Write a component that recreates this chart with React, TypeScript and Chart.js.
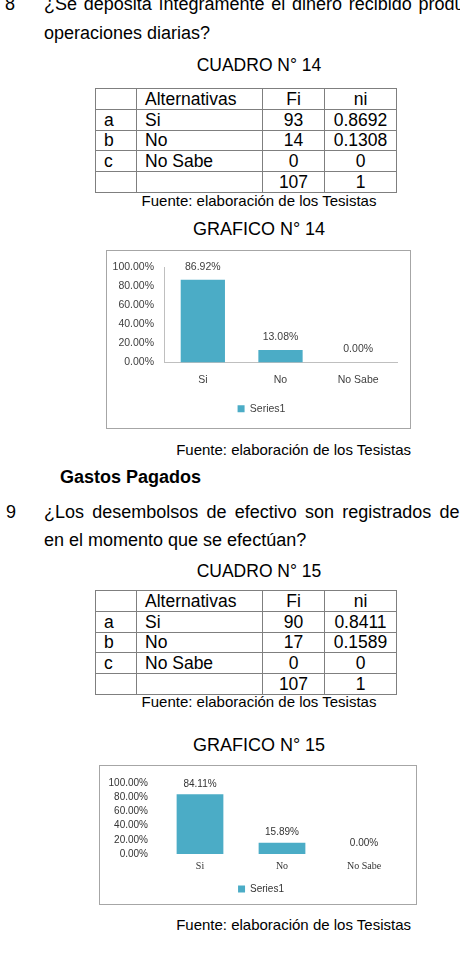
import React, { useEffect, useRef } from "react";
import { Chart, registerables } from "chart.js";

Chart.register(...registerables);

// ---------- data ----------
const categories = ["Si", "No", "No Sabe"];
const seriesName = "Series1";
const values14 = [0.8692, 0.1308, 0];
const values15 = [0.8411, 0.1589, 0];
const rowLetters = ["a", "b", "c"];
const fi14 = ["93", "14", "0"];
const ni14 = ["0.8692", "0.1308", "0"];
const fi15 = ["90", "17", "0"];
const ni15 = ["0.8411", "0.1589", "0"];
const totalFi = "107";
const totalNi = "1";
const yMin = 0;
const yMax = 1;
const yStep = 0.2;

const pct = (v: number) => (v * 100).toFixed(2) + "%";

// ---------- chart ----------
type Geom = {
  w: number;
  h: number;
  pad: { top: number; right: number; bottom: number; left: number };
  yWidth: number;
  rightWidth: number;
  xHeight: number;
  yPad: number;
  xPad: number;
  labelOffset: number;
  axisLines: boolean;
  color: string;
  family: string;
  xFamily: string;
  size: number;
};

function makeConfig(values: number[], g: Geom): any {
  const font = { family: g.family, size: g.size };
  const labelPlugin = {
    id: "barValueLabels",
    afterDatasetsDraw(chart: any) {
      const ctx = chart.ctx;
      const meta = chart.getDatasetMeta(0);
      ctx.save();
      ctx.font = `${g.size}px ${g.family}`;
      ctx.fillStyle = g.color;
      ctx.textAlign = "center";
      ctx.textBaseline = "middle";
      meta.data.forEach((bar: any, i: number) => {
        const v = chart.data.datasets[0].data[i] as number;
        ctx.fillText(pct(v), bar.x, bar.y - g.labelOffset);
      });
      ctx.restore();
    },
  };
  return {
    type: "bar",
    data: {
      labels: categories,
      datasets: [
        {
          label: seriesName,
          data: values,
          backgroundColor: "#4BACC6",
          borderWidth: 0,
          categoryPercentage: 1,
          barPercentage: 0.57,
        },
      ],
    },
    plugins: [labelPlugin],
    options: {
      animation: false,
      responsive: false,
      maintainAspectRatio: false,
      devicePixelRatio: 1,
      layout: { padding: g.pad },
      plugins: {
        legend: {
          position: "bottom",
          labels: {
            boxWidth: 7,
            boxHeight: 7,
            padding: 10,
            color: g.color,
            font,
          },
        },
        tooltip: { enabled: false },
      },
      scales: {
        x: {
          grid: { display: false, drawTicks: false },
          border: { display: g.axisLines, color: "#BFBFBF", width: 1 },
          ticks: {
            color: g.color,
            font: { family: g.xFamily, size: g.size },
            padding: g.xPad,
            maxRotation: 0,
            autoSkip: false,
          },
          afterFit: (s: any) => {
            s.height = g.xHeight;
          },
        },
        y: {
          min: yMin,
          max: yMax,
          grid: { display: false, drawTicks: false },
          border: { display: g.axisLines, color: "#BFBFBF", width: 1 },
          ticks: {
            stepSize: yStep,
            autoSkip: false,
            color: g.color,
            font,
            padding: g.yPad,
            callback: (v: any) => pct(Number(v)),
          },
          afterFit: (s: any) => {
            s.width = g.yWidth;
          },
        },
        yRight: {
          position: "right",
          display: true,
          grid: { display: false, drawTicks: false },
          border: { display: false },
          ticks: { display: false },
          afterFit: (s: any) => {
            s.width = g.rightWidth;
          },
        },
      },
    },
  };
}

function BarChart({ values, g }: { values: number[]; g: Geom }) {
  const ref = useRef<HTMLCanvasElement>(null);
  useEffect(() => {
    if (!ref.current) return;
    const chart = new Chart(ref.current, makeConfig(values, g));
    return () => chart.destroy();
  }, []);
  return (
    <canvas
      ref={ref}
      width={g.w}
      height={g.h}
      style={{ display: "block", width: g.w, height: g.h }}
    />
  );
}

const geom14: Geom = {
  w: 303,
  h: 177,
  pad: { top: 14, right: 0, bottom: 4, left: 6 },
  yWidth: 51,
  rightWidth: 13,
  xHeight: 31,
  yPad: 10,
  xPad: 11,
  labelOffset: 13,
  axisLines: true,
  color: "#404040",
  family: "'Liberation Sans', Arial, sans-serif",
  xFamily: "'Liberation Sans', Arial, sans-serif",
  size: 10.5,
};

const geom15: Geom = {
  w: 316,
  h: 138,
  pad: { top: 11, right: 0, bottom: 0, left: 6 },
  yWidth: 53,
  rightWidth: 11,
  xHeight: 20,
  yPad: 11,
  xPad: 6,
  labelOffset: 10.5,
  axisLines: false,
  color: "#333333",
  family: "'Liberation Sans', Arial, sans-serif",
  xFamily: "'Liberation Serif', 'Times New Roman', serif",
  size: 10,
};

// ---------- page pieces ----------
const SANS = "'Liberation Sans', Arial, sans-serif";

function Txt({
  top,
  left,
  width,
  align,
  size = 18,
  bold,
  wordSpacing,
  children,
}: any) {
  return (
    <div
      style={{
        position: "absolute",
        top,
        left,
        width,
        textAlign: align || "left",
        fontFamily: SANS,
        fontSize: size,
        fontWeight: bold ? "bold" : "normal",
        lineHeight: size >= 17 ? "20px" : "17px",
        whiteSpace: "nowrap",
        wordSpacing: wordSpacing,
        color: "#000",
      }}
    >
      {children}
    </div>
  );
}

function DataTable({ top, fi, ni }: { top: number; fi: string[]; ni: string[] }) {
  const cell: React.CSSProperties = {
    border: "1px solid #7f7f7f",
    padding: "0 0 0 8px",
    height: 19.8,
    fontFamily: SANS,
    fontSize: 17.5,
    lineHeight: "18px",
    whiteSpace: "nowrap",
    overflow: "hidden",
  };
  const c: React.CSSProperties = { ...cell, textAlign: "center", padding: 0 };
  return (
    <table
      style={{
        position: "absolute",
        left: 95,
        top,
        width: 301,
        borderCollapse: "collapse",
        tableLayout: "fixed",
      }}
    >
      <colgroup>
        <col style={{ width: 41 }} />
        <col style={{ width: 126 }} />
        <col style={{ width: 62 }} />
        <col style={{ width: 72 }} />
      </colgroup>
      <tbody>
        <tr>
          <td style={cell}></td>
          <td style={cell}>Alternativas</td>
          <td style={c}>Fi</td>
          <td style={c}>ni</td>
        </tr>
        {categories.map((cat, i) => (
          <tr key={cat}>
            <td style={cell}>{rowLetters[i]}</td>
            <td style={cell}>{cat}</td>
            <td style={c}>{fi[i]}</td>
            <td style={c}>{ni[i]}</td>
          </tr>
        ))}
        <tr>
          <td style={cell}></td>
          <td style={cell}></td>
          <td style={c}>{totalFi}</td>
          <td style={c}>{totalNi}</td>
        </tr>
      </tbody>
    </table>
  );
}

function ChartBox({ left, top, w, h, children }: any) {
  return (
    <div
      style={{
        position: "absolute",
        left,
        top,
        width: w,
        height: h,
        border: "1px solid #a6a6a6",
        background: "#fff",
      }}
    >
      {children}
    </div>
  );
}

export default function App() {
  useEffect(() => {
    document.body.style.margin = "0";
  }, []);
  return (
    <div
      style={{
        position: "absolute",
        left: 0,
        top: 0,
        width: 460,
        height: 954,
        overflow: "hidden",
        background: "#fff",
      }}
    >
      <Txt top={-6} left={5}>8</Txt>
      <Txt top={-6} left={44} wordSpacing={1.7}>
        ¿Se deposita íntegramente el dinero recibido producto
      </Txt>
      <Txt top={23} left={44}>operaciones diarias?</Txt>
      <Txt top={55} left={0} width={518} align="center" size={17.5}>
        CUADRO N° 14
      </Txt>
      <DataTable top={88} fi={fi14} ni={ni14} />
      <Txt top={192} left={0} width={518} align="center" size={15}>
        Fuente: elaboración de los Tesistas
      </Txt>
      <Txt top={219} left={0} width={518} align="center">
        GRAFICO N° 14
      </Txt>
      <ChartBox left={106} top={250} w={303} h={177}>
        <BarChart values={values14} g={geom14} />
      </ChartBox>
      <Txt top={441} left={0} width={411} align="right" size={15}>
        Fuente: elaboración de los Tesistas
      </Txt>
      <Txt top={467} left={60} bold>
        Gastos Pagados
      </Txt>
      <Txt top={502} left={6}>9</Txt>
      <Txt top={502} left={44} wordSpacing={3.2}>
        ¿Los desembolsos de efectivo son registrados de
      </Txt>
      <Txt top={530} left={44}>en el momento que se efectúan?</Txt>
      <Txt top={561} left={0} width={518} align="center" size={17.5}>
        CUADRO N° 15
      </Txt>
      <DataTable top={590} fi={fi15} ni={ni15} />
      <Txt top={693} left={0} width={518} align="center" size={15}>
        Fuente: elaboración de los Tesistas
      </Txt>
      <Txt top={735} left={0} width={518} align="center">
        GRAFICO N° 15
      </Txt>
      <ChartBox left={99} top={765} w={316} h={138}>
        <BarChart values={values15} g={geom15} />
      </ChartBox>
      <Txt top={916} left={0} width={411} align="right" size={15}>
        Fuente: elaboración de los Tesistas
      </Txt>
    </div>
  );
}
